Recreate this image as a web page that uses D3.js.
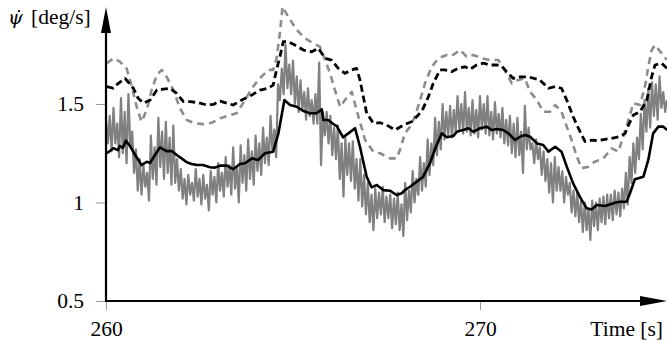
<!DOCTYPE html>
<html>
<head>
<meta charset="utf-8">
<script src="https://cdn.jsdelivr.net/npm/d3@7"></script>
<style>
  body { margin: 0; background: #fff; }
  svg { display: block; }
</style>
</head>
<body>
<svg></svg>
<script>
var width = 667;
var height = 341;
var serif = "'Liberation Serif', 'DejaVu Serif', 'Noto Serif', Times, serif";

// axis ticks
var xTicks = [260, 270];
var yTicks = [0.5, 1, 1.5];

// raw yaw rate (grey, noisy)
var rawRate = [
  [260.00, 1.42], [260.05, 1.30], [260.10, 1.44], [260.15, 1.26], [260.20, 1.48], [260.25, 1.30],
  [260.30, 1.40], [260.35, 1.23], [260.40, 1.53], [260.45, 1.25], [260.50, 1.46], [260.55, 1.20],
  [260.60, 1.55], [260.65, 1.28], [260.70, 1.36], [260.75, 1.15], [260.80, 1.27], [260.85, 1.06],
  [260.90, 1.22], [260.95, 1.04], [261.00, 1.19], [261.05, 1.08], [261.10, 1.15], [261.15, 1.01],
  [261.20, 1.34], [261.25, 1.12], [261.30, 1.28], [261.35, 1.09], [261.40, 1.43], [261.45, 1.18],
  [261.50, 1.36], [261.55, 1.12], [261.60, 1.41], [261.65, 1.15], [261.70, 1.33], [261.75, 1.09],
  [261.80, 1.39], [261.85, 1.10], [261.90, 1.22], [261.95, 1.06], [262.00, 1.17], [262.05, 1.02],
  [262.10, 1.12], [262.15, 0.99], [262.20, 1.14], [262.25, 1.04], [262.30, 1.10], [262.35, 1.01],
  [262.40, 1.17], [262.45, 1.03], [262.50, 1.12], [262.55, 0.99], [262.60, 1.14], [262.65, 1.02],
  [262.70, 1.09], [262.75, 0.96], [262.80, 1.16], [262.85, 1.04], [262.90, 1.13], [262.95, 1.00],
  [263.00, 1.20], [263.05, 1.06], [263.10, 1.15], [263.15, 1.03], [263.20, 1.23], [263.25, 1.08],
  [263.30, 1.19], [263.35, 1.04], [263.40, 1.28], [263.45, 1.07], [263.50, 1.18], [263.55, 1.00],
  [263.60, 1.29], [263.65, 1.10], [263.70, 1.24], [263.75, 1.06], [263.80, 1.32], [263.85, 1.12],
  [263.90, 1.26], [263.95, 1.09], [264.00, 1.34], [264.05, 1.16], [264.10, 1.30], [264.15, 1.14],
  [264.20, 1.38], [264.25, 1.20], [264.30, 1.33], [264.35, 1.19], [264.40, 1.44], [264.45, 1.26],
  [264.50, 1.37], [264.55, 1.23], [264.60, 1.60], [264.65, 1.52], [264.70, 1.68], [264.75, 1.55],
  [264.80, 1.80], [264.85, 1.58], [264.90, 1.70], [264.95, 1.55], [265.00, 1.72], [265.05, 1.50],
  [265.10, 1.64], [265.15, 1.46], [265.20, 1.62], [265.25, 1.47], [265.30, 1.56], [265.35, 1.42],
  [265.40, 1.58], [265.45, 1.44], [265.50, 1.52], [265.55, 1.40], [265.60, 1.55], [265.65, 1.40],
  [265.70, 1.71], [265.75, 1.19], [265.80, 1.46], [265.85, 1.34], [265.90, 1.46], [265.95, 1.30],
  [266.00, 1.44], [266.05, 1.24], [266.10, 1.38], [266.15, 1.22], [266.20, 1.39], [266.25, 1.12],
  [266.30, 1.30], [266.35, 1.03], [266.40, 1.33], [266.45, 1.14], [266.50, 1.30], [266.55, 1.11],
  [266.60, 1.31], [266.65, 1.07], [266.70, 1.22], [266.75, 1.01], [266.80, 1.22], [266.85, 0.98],
  [266.90, 1.14], [266.95, 0.94], [267.00, 1.10], [267.05, 0.90], [267.10, 1.04], [267.15, 0.86],
  [267.20, 1.07], [267.25, 0.92], [267.30, 1.05], [267.35, 0.94], [267.40, 1.08], [267.45, 0.90],
  [267.50, 1.03], [267.55, 0.92], [267.60, 1.04], [267.65, 0.87], [267.70, 1.02], [267.75, 0.89],
  [267.80, 1.05], [267.85, 0.86], [267.90, 0.99], [267.95, 0.83], [268.00, 1.10], [268.05, 0.91],
  [268.10, 1.06], [268.15, 0.95], [268.20, 1.16], [268.25, 1.00], [268.30, 1.12], [268.35, 1.04],
  [268.40, 1.23], [268.45, 1.06], [268.50, 1.20], [268.55, 1.08], [268.60, 1.32], [268.65, 1.14],
  [268.70, 1.30], [268.75, 1.19], [268.80, 1.43], [268.85, 1.24], [268.90, 1.41], [268.95, 1.27],
  [269.00, 1.50], [269.05, 1.32], [269.10, 1.46], [269.15, 1.34], [269.20, 1.49], [269.25, 1.33],
  [269.30, 1.47], [269.35, 1.36], [269.40, 1.54], [269.45, 1.37], [269.50, 1.50], [269.55, 1.35],
  [269.60, 1.56], [269.65, 1.36], [269.70, 1.48], [269.75, 1.34], [269.80, 1.52], [269.85, 1.35],
  [269.90, 1.47], [269.95, 1.33], [270.00, 1.54], [270.05, 1.37], [270.10, 1.50], [270.15, 1.35],
  [270.20, 1.54], [270.25, 1.34], [270.30, 1.46], [270.35, 1.32], [270.40, 1.51], [270.45, 1.35],
  [270.50, 1.45], [270.55, 1.33], [270.60, 1.48], [270.65, 1.30], [270.70, 1.42], [270.75, 1.29],
  [270.80, 1.44], [270.85, 1.25], [270.90, 1.40], [270.95, 1.23], [271.00, 1.43], [271.05, 1.24],
  [271.10, 1.36], [271.15, 1.15], [271.20, 1.49], [271.25, 1.27], [271.30, 1.38], [271.35, 1.27],
  [271.40, 1.30], [271.45, 1.20], [271.50, 1.32], [271.55, 1.22], [271.60, 1.28], [271.65, 1.14],
  [271.70, 1.26], [271.75, 1.11], [271.80, 1.22], [271.85, 1.05], [271.90, 1.20], [271.95, 1.00],
  [272.00, 1.23], [272.05, 1.06], [272.10, 1.18], [272.15, 1.06], [272.20, 1.16], [272.25, 1.00],
  [272.30, 1.13], [272.35, 1.04], [272.40, 1.10], [272.45, 0.95], [272.50, 1.06], [272.55, 0.93],
  [272.60, 1.05], [272.65, 0.90], [272.70, 1.01], [272.75, 0.85], [272.80, 1.00], [272.85, 0.86],
  [272.90, 0.97], [272.95, 0.81], [273.00, 1.01], [273.05, 0.88], [273.10, 1.00], [273.15, 0.86],
  [273.20, 1.02], [273.25, 0.90], [273.30, 1.03], [273.35, 0.89], [273.40, 1.04], [273.45, 0.92],
  [273.50, 1.04], [273.55, 0.91], [273.60, 1.06], [273.65, 0.94], [273.70, 1.05], [273.75, 0.93],
  [273.80, 1.07], [273.85, 0.97], [273.90, 1.15], [273.95, 0.99], [274.00, 1.23], [274.05, 1.10],
  [274.10, 1.30], [274.15, 1.15], [274.20, 1.33], [274.25, 1.22], [274.30, 1.45], [274.35, 1.27],
  [274.40, 1.52], [274.45, 1.36], [274.50, 1.58], [274.55, 1.38], [274.60, 1.61], [274.65, 1.44],
  [274.70, 1.60], [274.75, 1.42], [274.80, 1.64], [274.85, 1.48], [274.90, 1.56], [274.95, 1.46],
  [275.00, 1.52]
];

// filtered yaw rate (black, solid)
var filtRate = [
  [260.02, 1.250], [260.20, 1.275], [260.32, 1.266], [260.37, 1.287], [260.45, 1.277], [260.53, 1.314],
  [260.64, 1.287], [260.78, 1.241], [260.95, 1.190], [261.09, 1.207], [261.18, 1.201], [261.31, 1.241],
  [261.44, 1.280], [261.62, 1.261], [261.76, 1.261], [261.89, 1.241], [262.02, 1.224], [262.16, 1.204],
  [262.29, 1.195], [262.43, 1.190], [262.59, 1.190], [262.78, 1.179], [262.91, 1.177], [263.05, 1.187],
  [263.23, 1.187], [263.40, 1.169], [263.58, 1.195], [263.72, 1.199], [263.90, 1.224], [264.07, 1.216],
  [264.25, 1.250], [264.47, 1.258], [264.61, 1.351], [264.77, 1.520], [264.92, 1.495], [265.10, 1.486],
  [265.28, 1.464], [265.45, 1.453], [265.63, 1.453], [265.77, 1.473], [265.81, 1.419], [265.94, 1.419],
  [266.08, 1.398], [266.17, 1.388], [266.34, 1.331], [266.48, 1.351], [266.66, 1.377], [266.79, 1.283],
  [266.97, 1.131], [267.10, 1.077], [267.24, 1.089], [267.41, 1.063], [267.59, 1.060], [267.77, 1.038],
  [267.91, 1.047], [267.99, 1.063], [268.13, 1.080], [268.31, 1.106], [268.48, 1.131], [268.66, 1.199],
  [268.84, 1.292], [268.98, 1.351], [269.11, 1.331], [269.29, 1.338], [269.38, 1.359], [269.55, 1.368],
  [269.69, 1.377], [269.82, 1.359], [270.00, 1.377], [270.18, 1.385], [270.31, 1.368], [270.45, 1.373],
  [270.62, 1.368], [270.76, 1.351], [270.94, 1.317], [271.07, 1.334], [271.20, 1.343], [271.34, 1.334],
  [271.52, 1.300], [271.69, 1.292], [271.83, 1.258], [272.01, 1.283], [272.18, 1.258], [272.32, 1.182],
  [272.49, 1.097], [272.67, 1.029], [272.85, 0.971], [272.99, 0.965], [273.12, 0.987], [273.34, 0.982],
  [273.61, 0.999], [273.74, 1.004], [273.92, 1.004], [274.01, 1.047], [274.14, 1.118], [274.37, 1.131],
  [274.50, 1.216], [274.63, 1.351], [274.77, 1.385], [274.90, 1.385], [275.00, 1.368]
];

// upper bound of filtered rate (black, dashed)
var filtUpper = [
  [260.02, 1.588], [260.20, 1.580], [260.33, 1.605], [260.51, 1.630], [260.73, 1.580], [260.86, 1.529],
  [261.00, 1.504], [261.18, 1.520], [261.36, 1.571], [261.53, 1.575], [261.71, 1.580], [261.89, 1.554],
  [262.07, 1.512], [262.25, 1.512], [262.47, 1.507], [262.69, 1.495], [262.87, 1.498], [263.05, 1.515],
  [263.23, 1.504], [263.40, 1.495], [263.63, 1.520], [263.90, 1.546], [264.12, 1.571], [264.34, 1.580],
  [264.47, 1.596], [264.56, 1.673], [264.65, 1.740], [264.74, 1.816], [264.87, 1.816], [265.05, 1.799],
  [265.28, 1.774], [265.50, 1.765], [265.68, 1.783], [265.86, 1.732], [266.03, 1.723], [266.21, 1.681],
  [266.39, 1.656], [266.57, 1.673], [266.70, 1.681], [266.79, 1.622], [266.88, 1.537], [266.97, 1.453],
  [267.15, 1.402], [267.33, 1.405], [267.51, 1.393], [267.73, 1.368], [267.95, 1.393], [268.17, 1.410],
  [268.35, 1.444], [268.48, 1.478], [268.62, 1.537], [268.75, 1.605], [268.93, 1.673], [269.06, 1.673],
  [269.24, 1.664], [269.42, 1.681], [269.60, 1.689], [269.73, 1.676], [269.91, 1.698], [270.09, 1.707],
  [270.27, 1.698], [270.45, 1.698], [270.58, 1.693], [270.71, 1.664], [270.89, 1.630], [271.07, 1.638],
  [271.29, 1.638], [271.60, 1.622], [271.83, 1.580], [272.01, 1.588], [272.18, 1.580], [272.32, 1.520],
  [272.49, 1.436], [272.63, 1.377], [272.81, 1.309], [272.99, 1.317], [273.16, 1.314], [273.34, 1.321],
  [273.52, 1.326], [273.74, 1.334], [273.88, 1.351], [273.97, 1.393], [274.10, 1.444], [274.28, 1.461],
  [274.46, 1.520], [274.59, 1.639], [274.68, 1.698], [274.86, 1.707], [275.00, 1.681]
];

// upper bound of raw rate (grey, dashed)
var rawUpper = [
  [260.02, 1.707], [260.20, 1.732], [260.37, 1.715], [260.55, 1.681], [260.69, 1.588], [260.82, 1.486],
  [260.95, 1.410], [261.09, 1.470], [261.22, 1.571], [261.36, 1.647], [261.49, 1.673], [261.62, 1.639],
  [261.80, 1.571], [261.98, 1.478], [262.16, 1.419], [262.38, 1.402], [262.60, 1.398], [262.83, 1.405],
  [263.05, 1.427], [263.32, 1.444], [263.49, 1.453], [263.72, 1.520], [263.90, 1.581], [264.12, 1.632],
  [264.34, 1.673], [264.47, 1.673], [264.56, 1.732], [264.65, 1.859], [264.72, 1.994], [264.87, 1.943],
  [265.10, 1.876], [265.32, 1.834], [265.54, 1.808], [265.72, 1.791], [265.86, 1.723], [265.99, 1.656],
  [266.12, 1.571], [266.26, 1.486], [266.39, 1.520], [266.57, 1.562], [266.75, 1.436], [266.93, 1.317],
  [267.15, 1.258], [267.33, 1.250], [267.51, 1.232], [267.59, 1.224], [267.77, 1.224], [267.86, 1.266],
  [267.99, 1.351], [268.13, 1.385], [268.26, 1.436], [268.40, 1.520], [268.53, 1.605], [268.71, 1.689],
  [268.89, 1.732], [269.11, 1.749], [269.24, 1.744], [269.47, 1.774], [269.64, 1.740], [269.82, 1.749],
  [270.05, 1.732], [270.27, 1.723], [270.49, 1.723], [270.71, 1.656], [270.85, 1.605], [271.02, 1.622],
  [271.20, 1.630], [271.34, 1.562], [271.52, 1.520], [271.69, 1.461], [271.87, 1.461], [272.01, 1.495],
  [272.18, 1.461], [272.32, 1.385], [272.45, 1.317], [272.59, 1.232], [272.72, 1.174], [272.90, 1.182],
  [273.07, 1.207], [273.30, 1.224], [273.52, 1.275], [273.70, 1.258], [273.83, 1.334], [273.97, 1.419],
  [274.10, 1.504], [274.28, 1.495], [274.41, 1.588], [274.50, 1.689], [274.59, 1.774], [274.68, 1.799],
  [274.86, 1.757], [275.00, 1.723]
];

var svg = d3.select('svg')
            .attr('width', width)
            .attr('height', height);

var x = d3.scaleLinear()
          .domain([260, 275])
          .range([106, 667]);
var y = d3.scaleLinear()
          .domain([0.5, 2])
          .range([301, 5.5]);

var line = d3.line()
             .x(d => x(d[0]))
             .y(d => y(d[1]));

// ticks + labels
var yAxis = d3.axisLeft(y)
              .tickValues(yTicks)
              .tickSize(10)
              .tickPadding(12)
              .tickFormat(d3.format('~g'));
var xAxis = d3.axisBottom(x)
              .tickValues(xTicks)
              .tickSize(9)
              .tickPadding(11)
              .tickFormat(d3.format('d'));

svg.append('g')
    .attr('transform', `translate(${x(260)}, 0)`)
    .call(yAxis)
    .call(g => g.select('.domain').remove());
svg.append('g')
    .attr('transform', `translate(0, ${y(0.5)})`)
    .call(xAxis)
    .call(g => g.select('.domain').remove());

svg.selectAll('.tick line')
    .attr('stroke', '#999')
    .attr('stroke-width', 1);
svg.selectAll('.tick text')
    .style('font-family', serif)
    .style('font-size', '21.5px')
    .attr('fill', '#000');

// series
var series = [
  { data: rawRate, color: '#808080', dash: null, w: 2.2 },
  { data: filtRate, color: '#000', dash: null, w: 2.6 },
  { data: rawUpper, color: '#8c8c8c', dash: '7,5', w: 2.6 },
  { data: filtUpper, color: '#000', dash: '7,4', w: 2.8 }
];

svg.selectAll('.series')
    .data(series)
    .enter()
    .append('path')
      .classed('series', true)
      .attr('fill', 'none')
      .attr('stroke', d => d.color)
      .attr('stroke-width', d => d.w)
      .attr('stroke-linejoin', 'round')
      .attr('stroke-dasharray', d => d.dash)
      .attr('d', d => line(d.data));

// axis lines with arrow heads
svg.append('line')
    .attr('x1', x(260)).attr('y1', y(0.5) + 1)
    .attr('x2', x(260)).attr('y2', 28)
    .attr('stroke', '#000').attr('stroke-width', 2.2);
svg.append('line')
    .attr('x1', x(260) - 1).attr('y1', y(0.5))
    .attr('x2', 645).attr('y2', y(0.5))
    .attr('stroke', '#000').attr('stroke-width', 2.2);
svg.append('path')
    .attr('d', `M${x(260)},7 L${x(260) - 5},33 L${x(260) + 5},33 Z`)
    .attr('fill', '#000');
svg.append('path')
    .attr('d', `M667,${y(0.5)} L640,${y(0.5) - 5} L640,${y(0.5) + 5} Z`)
    .attr('fill', '#000');

// axis titles (psi with combining dot above, one text run)
var yTitle = svg.append('text')
    .attr('x', 8)
    .attr('y', 24)
    .style('font-family', serif)
    .style('font-size', '21.5px');
yTitle.append('tspan')
    .style('font-family', "'DejaVu Serif', serif")
    .style('font-style', 'italic')
    .style('font-size', '19px')
    .text('\u03C8\u0307');
yTitle.append('tspan')
    .attr('x', 31)
    .text('[deg/s]');

svg.append('text')
    .attr('x', 663)
    .attr('y', 336)
    .attr('text-anchor', 'end')
    .style('font-family', serif)
    .style('font-size', '21.5px')
    .text('Time [s]');
</script>
</body>
</html>
